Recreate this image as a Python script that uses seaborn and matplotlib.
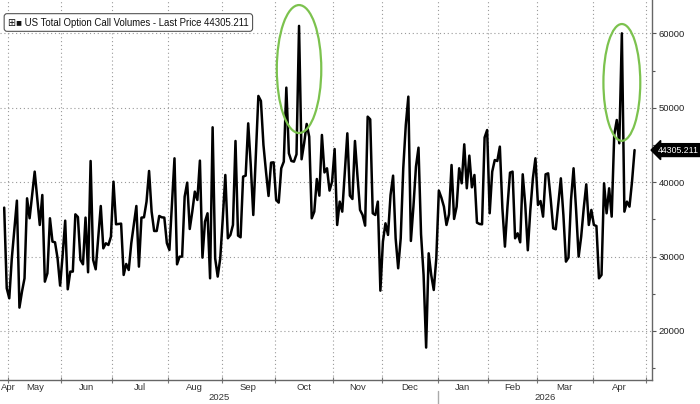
import numpy as np
import pandas as pd
import matplotlib
matplotlib.use("Agg")
import matplotlib.pyplot as plt
import matplotlib.transforms as mtransforms
from matplotlib.patches import Ellipse
import seaborn as sns

# ---------------- data ----------------
values = [
    36570, 25730, 24380, 29760, 33570, 37510, 23130, 25280, 27070, 37820,
    35140, 38270, 41410, 37820, 34240, 38270, 26620, 27740, 35140, 32000,
    31910, 29760, 26090, 30210, 34820, 25590, 27970, 27970, 35670, 35310,
    29540, 28950, 35230, 27880, 42840, 29540, 28280, 32450, 36790, 31100,
    31780, 31550, 32670, 40060, 34330, 34380, 34420, 27520, 29000, 28190,
    31780, 34240, 36790, 28640, 35230, 35270, 37380, 41500, 36030, 33430,
    33430, 35450, 35270, 35230, 31800,
    30880, 36930, 43200, 28950, 29980, 29980, 38050, 39930, 33700, 36030,
    38720, 37600, 42890, 29850, 34690, 35810, 27070, 47370, 29760, 27300,
    29760, 35140, 40960, 32450, 32900, 34240, 45530, 32810, 32580, 40740,
    40870, 47900, 42300, 35580, 43650, 51580, 50910, 44990, 41410, 38140,
    42620, 42660, 37600, 37240, 41860, 42750, 52700, 43870, 42840, 42750,
    43740, 61000, 43070, 45220, 47820, 46110, 35140, 36030, 40420, 38180,
    46340, 41300,
    41860, 38860, 40060, 44450, 34240, 37380, 36030, 41270, 46560, 38180,
    37730, 45530, 40740, 36260, 35580, 34150, 48800, 48440, 35810, 35580,
    37380, 25410, 32000, 34460, 32900, 38270, 40870, 32450, 28420, 32450,
    41860, 47680, 51490, 32090, 36700, 42080, 44630, 32990, 27520, 17760,
    30430, 27520, 25500, 29760, 38860, 37910, 36700, 34240, 35670, 42300,
    35050, 36700, 41860, 39840, 45080, 39170, 43560, 39300, 40960, 34550,
    34370, 34330, 46000,
    47000, 35810, 41410, 42970, 42840, 44770, 36480, 31330, 36700, 41270,
    41410, 32450, 33120, 31910, 41050, 36930, 30840, 36260, 40510, 43200,
    36930, 37460, 35360, 41050, 41180, 37730, 33790, 33660, 37150, 40510,
    35580, 29310, 29850, 37600, 41860, 36260, 29980, 32670, 36480, 39700,
    34240, 36260, 34240, 34100, 27070, 27520, 39840, 35810, 39170, 35360,
    46340, 48350, 45220, 60000, 36030, 37380, 36700, 40060, 44305.211,
]
last_price = 44305.211
last_date = "2026-04-24"
market_holidays = [
    "2025-05-26", "2025-06-19", "2025-07-04", "2025-09-01", "2025-11-27",
    "2025-12-25", "2026-01-01", "2026-01-19", "2026-02-16", "2026-04-03",
]
series_name = "US Total Option Call Volumes - Last Price 44305.211"
month_labels = ["Apr", "May", "Jun", "Jul", "Aug", "Sep", "Oct", "Nov",
                "Dec", "Jan", "Feb", "Mar", "Apr"]
year_labels = ["2025", "2026"]
y_major = [20000, 30000, 40000, 50000, 60000]
y_minor = [15000, 25000, 35000, 45000, 55000]
# highlighted spikes: (centre trading date, centre value, width in trading days, height)
highlights = [("2025-10-14", 55200, 17.5, 17200),
              ("2026-04-17", 53400, 14.5, 15700)]

# trading-day calendar (Bloomberg plots trading days evenly spaced)
cal = pd.bdate_range("2025-04-01", "2026-05-29")
cal = cal[~cal.isin(pd.to_datetime(market_holidays))]
end_i = cal.get_loc(pd.Timestamp(last_date))
start_i = end_i - len(values) + 1
pos_of = {d: i - start_i for i, d in enumerate(cal)}
dates = cal[start_i:end_i + 1]
df = pd.DataFrame({"date": dates,
                   "pos": [pos_of[d] for d in dates],
                   "volume": values})


def boundary(ts):
    """x position of the boundary just before the first trading day >= ts"""
    ts = pd.Timestamp(ts)
    first = cal[cal >= ts][0]
    return pos_of[first] - 0.5


# ---------------- style ----------------
sns.set_theme(style="white")
plt.rcParams["font.family"] = ["Liberation Sans", "DejaVu Sans"]

W, H = 700, 404
fig = plt.figure(figsize=(W / 100, H / 100), dpi=100)
ax_bottom_px = 380
ax_right_px = 652
ax = fig.add_axes([0, (H - ax_bottom_px) / H, ax_right_px / W, ax_bottom_px / H])

sns.lineplot(data=df, x="pos", y="volume", ax=ax, color="black", lw=1.8)

b_may25 = boundary("2025-05-01")
b_may26 = boundary("2026-05-01")
px_per_day = (646 - 8) / (b_may26 - b_may25)
x0 = b_may25 - 8 / px_per_day
x1 = b_may26 + (ax_right_px - 646) / px_per_day
ax.set_xlim(x0, x1)
ax.set_ylim(13400, 64480)
ax.set_xlabel("")
ax.set_ylabel("")

month_starts = pd.date_range("2025-05-01", "2026-05-01", freq="MS")
bounds = [boundary(m) for m in month_starts]
ax.set_xticks(bounds)
ax.set_xticklabels([])
ax.tick_params(axis="x", which="major", bottom=True, direction="inout",
               length=5, width=0.8, color="#777")
ax.yaxis.tick_right()
ax.set_yticks(y_major)
ax.set_yticklabels([str(v) for v in y_major])
ax.set_yticks(y_minor, minor=True)
ax.tick_params(axis="y", which="major", right=True, left=False, direction="out",
               length=3, width=0.8, color="#555", pad=2, labelsize=6.8,
               labelcolor="#222")
ax.tick_params(axis="y", which="minor", right=True, left=False, direction="out",
               length=2, width=0.8, color="#555")
ax.grid(True, which="major", axis="both", ls=(0, (1, 2.5)), color="#999", lw=0.8)

for s in ["left", "top"]:
    ax.spines[s].set_visible(False)
for s in ["right", "bottom"]:
    ax.spines[s].set_visible(True)
    ax.spines[s].set_color("#666")
    ax.spines[s].set_linewidth(1.0)

blend = mtransforms.blended_transform_factory(ax.transData, ax.transAxes)

# month labels centred on visible part of each month
edges = [x0] + bounds
y_month = -(388 - ax_bottom_px) / ax_bottom_px
for k, lab in enumerate(month_labels):
    a, b = edges[k], edges[k + 1]
    if k == 0:
        ax.text(0.002, y_month, lab, transform=ax.transAxes, ha="left",
                va="center", fontsize=6.8, color="#333")
    else:
        ax.text((a + b) / 2, y_month, lab, transform=blend, ha="center",
                va="center", fontsize=6.8, color="#333")

# year labels
jan = boundary("2026-01-01")
y_year = -(398 - ax_bottom_px) / ax_bottom_px
ax.text((x0 + jan) / 2, y_year, year_labels[0], transform=blend, ha="center",
        va="center", fontsize=6.8, color="#333")
ax.text((jan + x1) / 2, y_year, year_labels[1], transform=blend, ha="center",
        va="center", fontsize=6.8, color="#333")
ax.plot([jan, jan], [-(391 - ax_bottom_px) / ax_bottom_px,
                     -(404 - ax_bottom_px) / ax_bottom_px],
        transform=blend, clip_on=False, color="#aaa", lw=1.0)

# highlight ellipses
for c, v, wd, ht in highlights:
    e = Ellipse((pos_of[pd.Timestamp(c)], v), wd, ht, fill=False,
                ec="#7cc24e", lw=1.6, zorder=5)
    ax.add_patch(e)

# last price tag
ytrans = mtransforms.blended_transform_factory(ax.transAxes, ax.transData)
tag_trans = ytrans + mtransforms.ScaledTranslation(6 / 100, 0, fig.dpi_scale_trans)
ax.text(1.0, last_price, f"{last_price:.3f}", transform=tag_trans, ha="left",
        va="center", fontsize=6.3, color="white", clip_on=False,
        bbox=dict(boxstyle="larrow,pad=0.22", fc="black", ec="black"))

# legend box
fig.text(8 / W, 1 - 22.5 / H, "⊞■ " + series_name, ha="left", va="center",
         fontsize=6.9, color="#111",
         bbox=dict(boxstyle="round,pad=0.4,rounding_size=0.3", fc="white",
                   ec="#555", lw=0.8))

fig.savefig("out.png", dpi=100)
